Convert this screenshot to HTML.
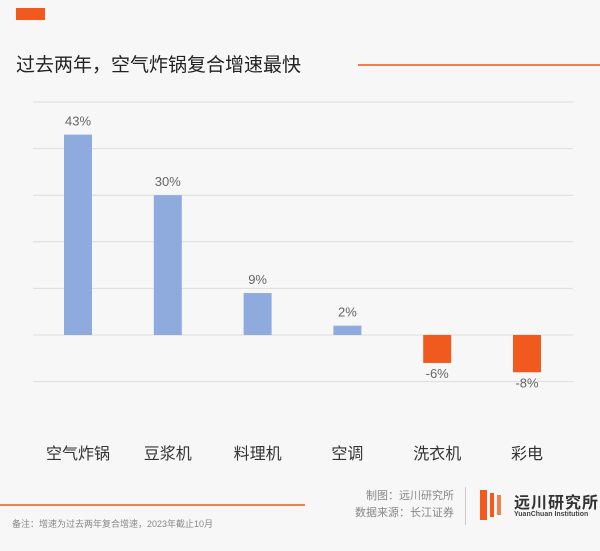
<!DOCTYPE html>
<html><head><meta charset="utf-8"><style>
body{margin:0;background:#f7f7f7;font-family:"Liberation Sans","Noto Sans CJK SC",sans-serif;}
#wrap{position:relative;width:600px;height:551px;overflow:hidden;background:#f7f7f7;}
</style></head><body>
<div id="wrap">
<div style="position:absolute;left:16px;top:8px;width:29px;height:12px;background:#f05a1e"></div>
<div style="position:absolute;left:16px;top:50px;font-size:19px;color:#222;white-space:nowrap">过去两年，空气炸锅复合增速最快</div>
<div style="position:absolute;left:358px;top:64px;width:242px;height:1.5px;background:#f08050"></div>
<svg id="chart" width="600" height="551" style="position:absolute;left:0;top:0"></svg>
<div style="position:absolute;left:0;top:504px;width:305px;height:1.5px;background:#f08050"></div>
<div style="position:absolute;left:12px;top:517px;font-size:9px;color:#888;white-space:nowrap">备注：增速为过去两年复合增速，2023年截止10月</div>
<div style="position:absolute;left:352px;top:488px;font-size:11px;color:#888;text-align:right;width:102px;line-height:17px;white-space:nowrap">制图：远川研究所<br>数据来源：长江证券</div>
<div style="position:absolute;left:465px;top:487px;width:1px;height:38px;background:#ccc"></div>
<div style="position:absolute;left:480px;top:490px;width:24px;height:30px">
<div style="position:absolute;left:0;top:0;width:7px;height:30px;background:#f05a1e"></div>
<div style="position:absolute;left:10px;top:3px;width:4px;height:24px;background:#f05a1e"></div>
<div style="position:absolute;left:17px;top:5px;width:4px;height:20px;background:#f08050"></div>
</div>
<div style="position:absolute;left:514px;top:489px;font-size:16px;font-weight:bold;color:#333;letter-spacing:1px;white-space:nowrap">远川研究所</div>
<div style="position:absolute;left:514px;top:511px;font-size:7px;font-weight:bold;color:#444;white-space:nowrap">YuanChuan Institution</div>
</div>
<script>
const categories=["空气炸锅","豆浆机","料理机","空调","洗衣机","彩电"];
const values=[43,30,9,2,-6,-8];
const valueLabels=["43%","30%","9%","2%","-6%","-8%"];
const gridTicks=[50,40,30,20,10,0,-10];
const svg=document.getElementById('chart');
const NS='http://www.w3.org/2000/svg';
const y=v=>335-v*4.66;
const x=i=>78+i*89.8;
function mk(t,a){const e=document.createElementNS(NS,t);for(const k in a)e.setAttribute(k,a[k]);svg.appendChild(e);return e;}
gridTicks.forEach(t=>{const l=mk('line',{x1:33,x2:573,y1:y(t),y2:y(t),stroke:'#dcdcdc','stroke-width':1});

});
values.forEach((v,i)=>{
const top=Math.min(y(v),y(0)),h=Math.abs(y(v)-y(0));
const r=mk('rect',{x:x(i)-14,y:top,width:28,height:h,fill:v>=0?'#8faadc':'#f05a1e'});


const ty=v>=0?y(v)-9:y(v)+15;
const t=mk('text',{x:x(i),y:ty,'text-anchor':'middle','font-size':13,fill:'#666'});
t.textContent=valueLabels[i];


const c=mk('text',{x:x(i),y:459,'text-anchor':'middle','font-size':16,fill:'#333'});
c.textContent=categories[i];


});
</script>
</body></html>
